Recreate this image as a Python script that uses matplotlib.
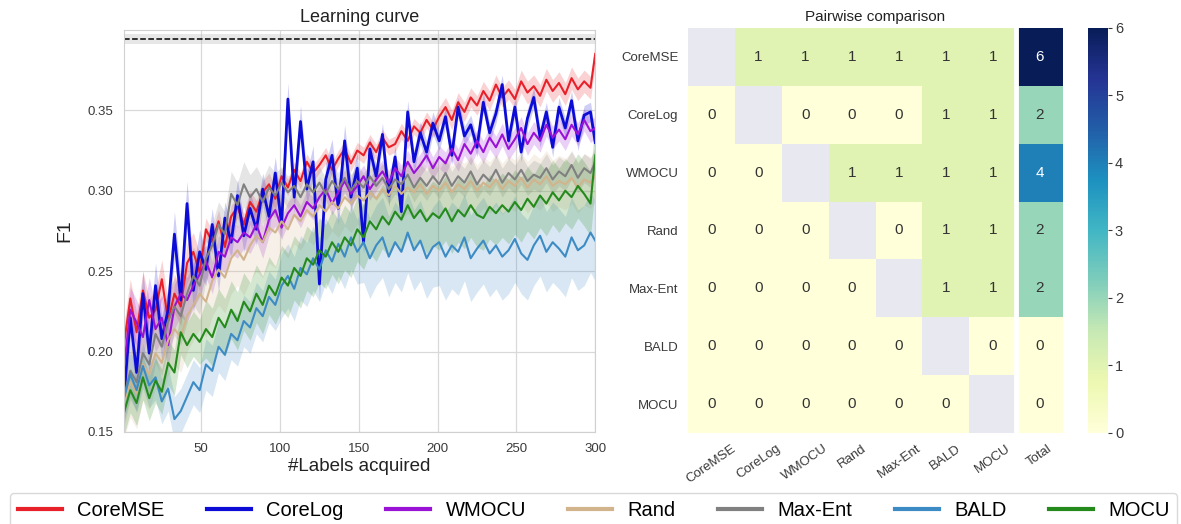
import numpy as np
import matplotlib
matplotlib.use("Agg")
import matplotlib.pyplot as plt
from matplotlib.colors import Normalize

plt.rcParams["font.family"] = ["Liberation Sans", "DejaVu Sans"]

# ── learning curve data ──────────────────────────────────────────────────
labels_acquired = np.append(np.arange(1, 298, 4), 300)

methods = ["CoreMSE", "CoreLog", "WMOCU", "Rand", "Max-Ent", "BALD", "MOCU"]
colors = ["#e8202a", "#0c0cd6", "#9a12d6", "#d2b48c", "#808080", "#3d8bc4", "#258a1c"]

f1_coremse = [
    0.205, 0.233, 0.212, 0.238, 0.221, 0.226, 0.245, 0.219, 0.236, 0.228,
    0.255, 0.262, 0.249, 0.276, 0.268, 0.281, 0.265, 0.284, 0.290, 0.279,
    0.293, 0.287, 0.299, 0.304, 0.295, 0.309, 0.302, 0.313, 0.306, 0.318,
    0.311, 0.316, 0.322, 0.313, 0.320, 0.326, 0.317, 0.325, 0.322, 0.330,
    0.324, 0.333, 0.327, 0.329, 0.337, 0.331, 0.340, 0.336, 0.344, 0.338,
    0.346, 0.352, 0.344, 0.355, 0.349, 0.358, 0.353, 0.362, 0.356, 0.366,
    0.358, 0.363, 0.357, 0.368, 0.361, 0.365, 0.359, 0.369, 0.362, 0.367,
    0.360, 0.370, 0.363, 0.368, 0.364, 0.385,
]
f1_corelog = [
    0.172, 0.221, 0.187, 0.236, 0.199, 0.241, 0.208, 0.226, 0.273, 0.232,
    0.292, 0.238, 0.262, 0.251, 0.279, 0.247, 0.283, 0.268, 0.297, 0.272,
    0.289, 0.276, 0.301, 0.284, 0.311, 0.279, 0.357, 0.296, 0.343, 0.301,
    0.318, 0.242, 0.307, 0.322, 0.289, 0.331, 0.296, 0.314, 0.268, 0.326,
    0.309, 0.335, 0.297, 0.321, 0.287, 0.349, 0.318, 0.336, 0.324, 0.342,
    0.331, 0.346, 0.322, 0.352, 0.334, 0.341, 0.327, 0.355, 0.336, 0.348,
    0.366, 0.331, 0.352, 0.324, 0.345, 0.358, 0.333, 0.349, 0.327, 0.352,
    0.339, 0.356, 0.331, 0.347, 0.349, 0.330,
]
f1_wmocu = [
    0.190, 0.226, 0.218, 0.209, 0.232, 0.214, 0.221, 0.204, 0.228, 0.236,
    0.232, 0.241, 0.248, 0.256, 0.246, 0.262, 0.259, 0.271, 0.268, 0.274,
    0.271, 0.279, 0.268, 0.282, 0.288, 0.277, 0.286, 0.291, 0.284, 0.293,
    0.289, 0.296, 0.301, 0.292, 0.299, 0.306, 0.298, 0.303, 0.309, 0.301,
    0.307, 0.312, 0.305, 0.314, 0.309, 0.318, 0.311, 0.316, 0.322, 0.314,
    0.321, 0.317, 0.326, 0.319, 0.329, 0.323, 0.331, 0.324, 0.333, 0.327,
    0.335, 0.326, 0.332, 0.339, 0.329, 0.336, 0.331, 0.341, 0.333, 0.338,
    0.332, 0.341, 0.335, 0.344, 0.337, 0.339,
]
f1_rand = [
    0.168, 0.181, 0.174, 0.192, 0.186, 0.199, 0.193, 0.207, 0.214, 0.209,
    0.222, 0.229, 0.236, 0.231, 0.244, 0.251, 0.246, 0.258, 0.263, 0.257,
    0.266, 0.272, 0.268, 0.277, 0.274, 0.281, 0.276, 0.285, 0.281, 0.288,
    0.284, 0.291, 0.287, 0.293, 0.289, 0.296, 0.292, 0.297, 0.294, 0.299,
    0.295, 0.301, 0.297, 0.303, 0.298, 0.302, 0.299, 0.304, 0.298, 0.303,
    0.300, 0.305, 0.299, 0.304, 0.301, 0.306, 0.300, 0.305, 0.302, 0.307,
    0.301, 0.306, 0.303, 0.308, 0.302, 0.307, 0.304, 0.309, 0.303, 0.306,
    0.304, 0.308, 0.302, 0.307, 0.305, 0.309,
]
f1_maxent = [
    0.172, 0.188, 0.181, 0.199, 0.192, 0.211, 0.203, 0.219, 0.228, 0.222,
    0.236, 0.247, 0.241, 0.258, 0.266, 0.279, 0.273, 0.298, 0.291, 0.304,
    0.296, 0.301, 0.293, 0.302, 0.297, 0.305, 0.299, 0.303, 0.296, 0.304,
    0.299, 0.305, 0.298, 0.306, 0.301, 0.308, 0.300, 0.306, 0.302, 0.309,
    0.303, 0.308, 0.301, 0.307, 0.304, 0.310, 0.302, 0.308, 0.303, 0.309,
    0.304, 0.311, 0.303, 0.309, 0.305, 0.312, 0.304, 0.310, 0.306, 0.313,
    0.305, 0.311, 0.307, 0.313, 0.306, 0.310, 0.308, 0.314, 0.307, 0.312,
    0.309, 0.316, 0.308, 0.314, 0.311, 0.318,
]
f1_bald = [
    0.171, 0.186, 0.176, 0.191, 0.179, 0.184, 0.169, 0.177, 0.158, 0.163,
    0.172, 0.181, 0.176, 0.192, 0.188, 0.203, 0.198, 0.211, 0.207, 0.219,
    0.215, 0.227, 0.222, 0.234, 0.229, 0.241, 0.247, 0.239, 0.252, 0.248,
    0.258, 0.251, 0.263, 0.256, 0.267, 0.259, 0.271, 0.262, 0.268, 0.258,
    0.266, 0.271, 0.259, 0.268, 0.262, 0.274, 0.263, 0.269, 0.258, 0.265,
    0.268, 0.259, 0.266, 0.262, 0.271, 0.258, 0.264, 0.269, 0.261, 0.266,
    0.259, 0.263, 0.270, 0.261, 0.257, 0.266, 0.272, 0.262, 0.268, 0.264,
    0.259, 0.271, 0.263, 0.266, 0.274, 0.269,
]
f1_mocu = [
    0.162, 0.176, 0.168, 0.184, 0.171, 0.182, 0.175, 0.193, 0.187, 0.212,
    0.204, 0.211, 0.206, 0.214, 0.209, 0.221, 0.215, 0.226, 0.219, 0.231,
    0.225, 0.236, 0.229, 0.241, 0.235, 0.246, 0.241, 0.252, 0.247, 0.258,
    0.254, 0.263, 0.259, 0.268, 0.262, 0.271, 0.266, 0.276, 0.271, 0.281,
    0.276, 0.284, 0.279, 0.287, 0.282, 0.291, 0.283, 0.288, 0.281, 0.286,
    0.283, 0.289, 0.281, 0.288, 0.284, 0.291, 0.285, 0.283, 0.290, 0.286,
    0.291, 0.287, 0.293, 0.288, 0.295, 0.290, 0.297, 0.292, 0.299, 0.294,
    0.300, 0.296, 0.303, 0.298, 0.292, 0.322,
]
f1_curves = [f1_coremse, f1_corelog, f1_wmocu, f1_rand, f1_maxent, f1_bald, f1_mocu]

# confidence band half-width per 50-label segment
band_coremse = [0.012, 0.007, 0.005, 0.005, 0.006, 0.007]
band_corelog = [0.014, 0.010, 0.010, 0.007, 0.006, 0.006]
band_wmocu = [0.014, 0.010, 0.007, 0.007, 0.007, 0.007]
band_rand = [0.022, 0.022, 0.018, 0.016, 0.016, 0.016]
band_maxent = [0.018, 0.014, 0.010, 0.009, 0.009, 0.009]
band_bald = [0.014, 0.016, 0.020, 0.025, 0.027, 0.025]
band_mocu = [0.014, 0.018, 0.020, 0.020, 0.020, 0.020]
bands = [band_coremse, band_corelog, band_wmocu, band_rand, band_maxent, band_bald, band_mocu]

full_data_f1 = 0.3945
full_data_band = 0.003

# ── pairwise comparison data ─────────────────────────────────────────────
nan = np.nan
pairwise = [
    [nan, 1, 1, 1, 1, 1, 1],
    [0, nan, 0, 0, 0, 1, 1],
    [0, 0, nan, 1, 1, 1, 1],
    [0, 0, 0, nan, 0, 1, 1],
    [0, 0, 0, 0, nan, 1, 1],
    [0, 0, 0, 0, 0, nan, 0],
    [0, 0, 0, 0, 0, 0, nan],
]
totals = [6, 2, 4, 2, 2, 0, 0]
col_labels = methods + ["Total"]

# ── figure ───────────────────────────────────────────────────────────────
fig = plt.figure(figsize=(11.81, 5.24), dpi=100)
fig.patch.set_facecolor("white")

ax = fig.add_axes([0.105, 0.1756, 0.399, 0.7674])
ax.set_facecolor("white")

seg = np.minimum((labels_acquired - 1) // 50, 5)
for name, col, ys, bw in zip(methods, colors, f1_curves, bands):
    ys = np.asarray(ys)
    hw = np.asarray(bw)[seg]
    ax.fill_between(labels_acquired, ys - hw, ys + hw, color=col, alpha=0.2, lw=0)
    ax.plot(labels_acquired, ys, color=col, lw=2.0 if name == "CoreLog" else 1.5, label=name)

ax.axhspan(full_data_f1 - full_data_band, full_data_f1 + full_data_band,
           color="#bbbbbb", alpha=0.35, lw=0)
ax.axhline(full_data_f1, color="black", ls="--", lw=1.1)

ax.set_xlim(1, 300)
ax.set_ylim(0.15, 0.40)
ax.set_xticks([50, 100, 150, 200, 250, 300])
ax.set_yticks([0.15, 0.20, 0.25, 0.30, 0.35])
ax.set_yticklabels(["0.15", "0.20", "0.25", "0.30", "0.35"])
ax.grid(True, color="#d9d9d9", lw=0.9)
ax.set_axisbelow(True)
ax.tick_params(length=0, labelsize=9.5, colors="#3a3a3a", pad=8)
for sp in ax.spines.values():
    sp.set_color("#d0d0d0")
ax.set_title("Learning curve", fontsize=13, color="#222222", pad=6)
ax.set_xlabel("#Labels acquired", fontsize=13.5, color="#222222", labelpad=2)
ax.set_ylabel("F1", fontsize=14, color="#222222", labelpad=10)

# heatmap
hax = fig.add_axes([0.5826, 0.1737, 0.3175, 0.7729])
hax.set_facecolor("#e8e9f0")
mat = np.column_stack([np.array(pairwise, dtype=float), np.array(totals, dtype=float)])
cmap = plt.get_cmap("YlGnBu")
norm = Normalize(vmin=0, vmax=6)
mesh = hax.pcolormesh(np.ma.masked_invalid(mat), cmap=cmap, norm=norm)
hax.set_xlim(0, 8)
hax.set_ylim(7, 0)
hax.axvline(7, color="white", lw=3.5)
for sp in hax.spines.values():
    sp.set_visible(False)

for r in range(mat.shape[0]):
    for c in range(mat.shape[1]):
        v = mat[r, c]
        if np.isnan(v):
            continue
        tc = "white" if v >= 4 else "#333333"
        hax.text(c + 0.5, r + 0.5, f"{int(v)}", ha="center", va="center",
                 fontsize=11, color=tc)

hax.set_xticks(np.arange(8) + 0.5)
hax.set_xticklabels(col_labels, rotation=35, ha="center", fontsize=9.5, color="#3a3a3a")
hax.set_yticks(np.arange(7) + 0.5)
hax.set_yticklabels(methods, fontsize=9.5, color="#3a3a3a")
hax.tick_params(length=0, pad=7)
hax.set_title("Pairwise comparison", fontsize=11, color="#222222", pad=5)

cax = fig.add_axes([0.9213, 0.1737, 0.0169, 0.7729])
cb = fig.colorbar(mesh, cax=cax)
cb.set_ticks(range(7))
cb.outline.set_visible(False)
cax.tick_params(labelsize=10.5, colors="#3a3a3a", length=3, width=0.8, pad=2)

handles, lbls = ax.get_legend_handles_labels()
leg = fig.legend(handles, lbls, loc="upper left", bbox_to_anchor=(10 / 1181, 1 - 493 / 524),
                 ncol=7, fontsize=14.5, frameon=True, fancybox=True, borderaxespad=0,
                 handlelength=2.2, handletextpad=0.75, columnspacing=2.1,
                 borderpad=0.4, edgecolor="#d0d0d0")
for line in leg.get_lines():
    line.set_linewidth(3)

fig.savefig("out.png", dpi=100, facecolor="white")
